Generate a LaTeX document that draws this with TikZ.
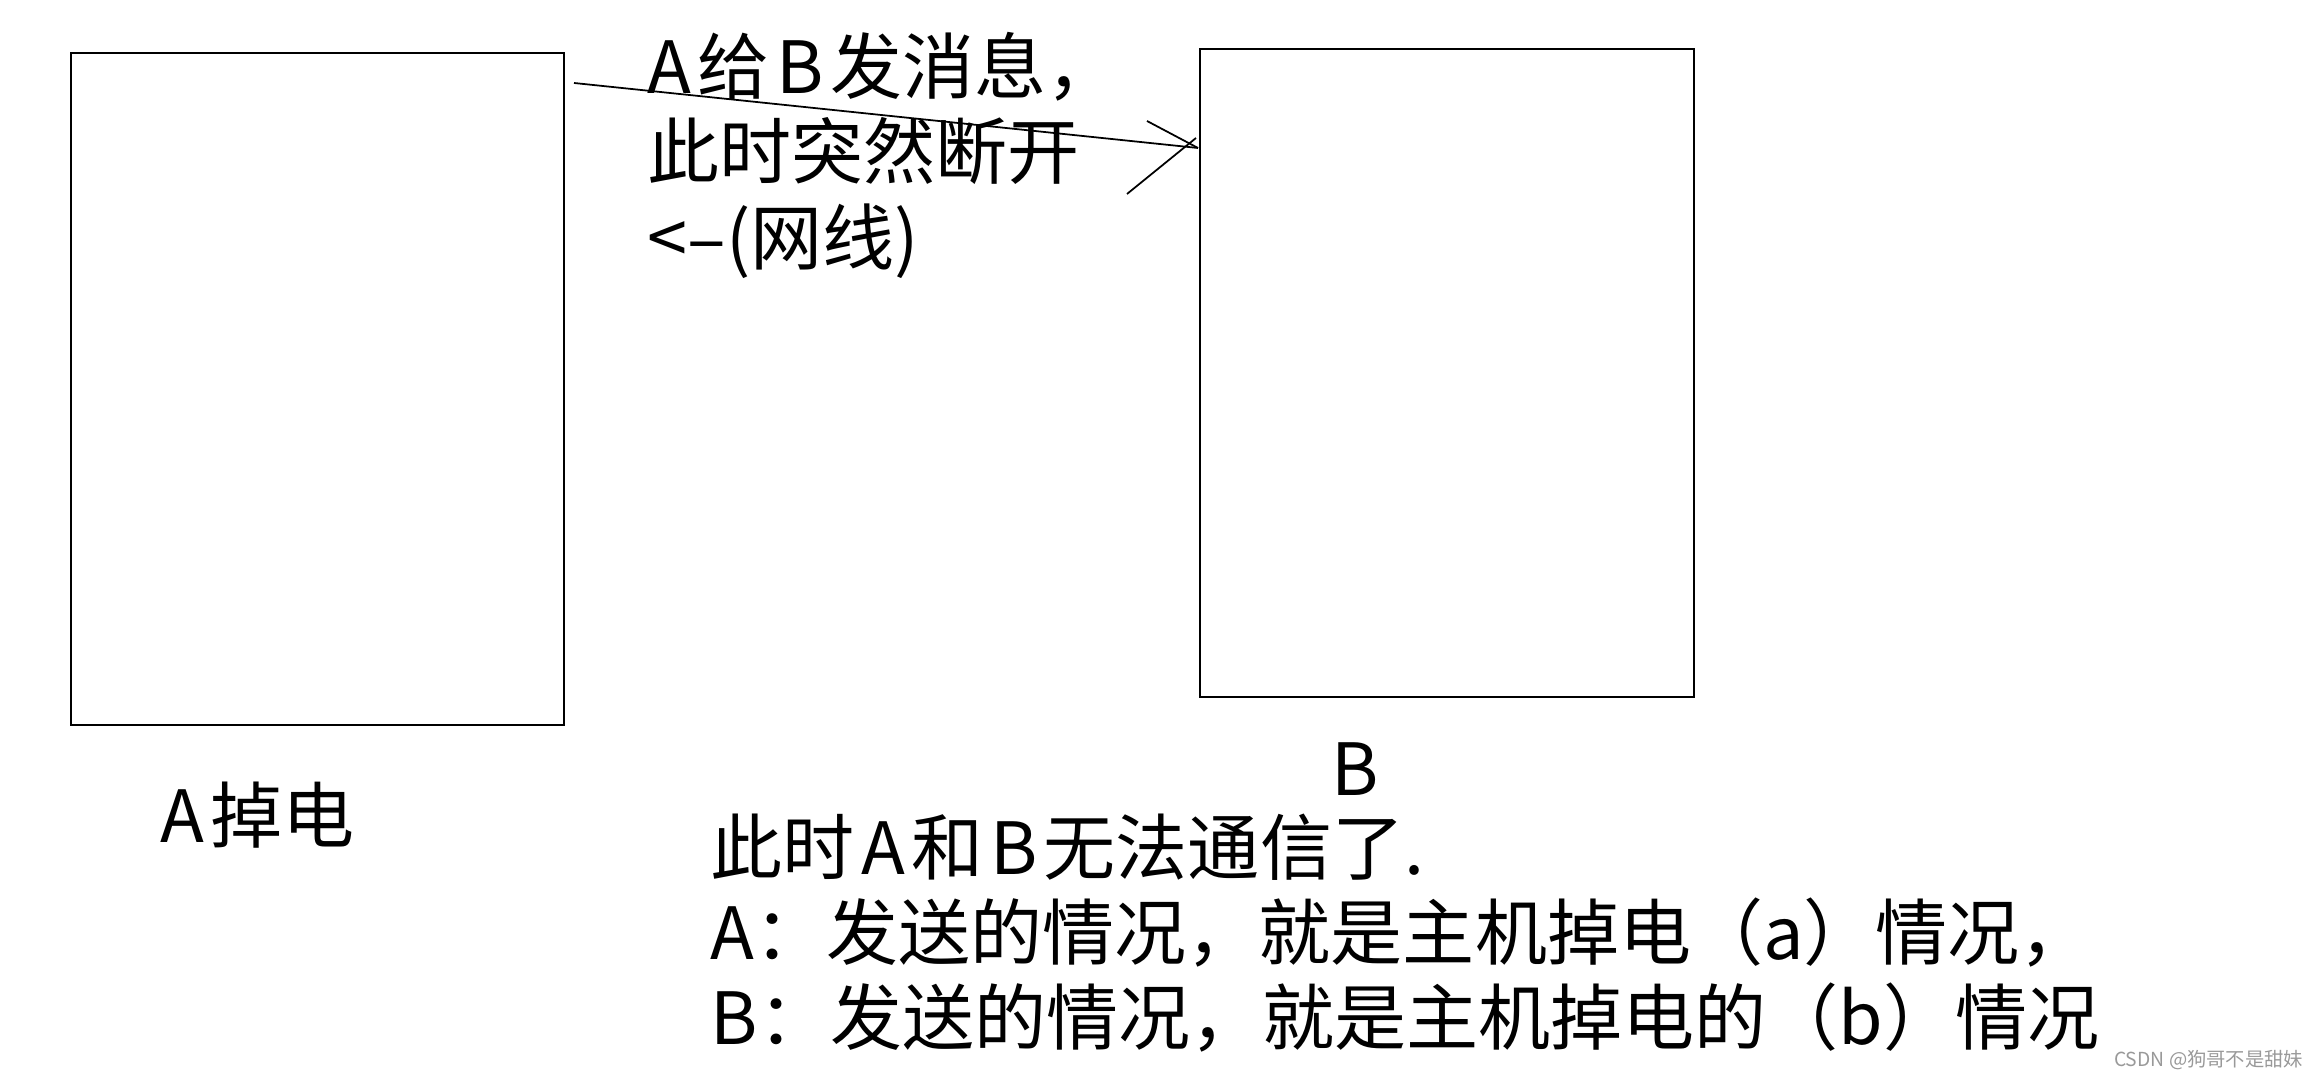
\documentclass[tikz,border=0pt]{standalone}
\usepackage{fontspec}
\setmainfont{Noto Sans CJK SC}
\newcommand{\latgap}{\kern.09em}
\tikzset{%
  hostbox/.style={draw,line width=0.5pt,inner sep=0},
  bigtxt/.style={inner sep=0,font=\fontsize{20.5pt}{24.2pt}\selectfont},
  wire/.style={draw,line width=0.5pt}
}

\begin{document}
\begin{tikzpicture}[
        hostbox/.style={draw,line width=0.5pt,inner sep=0},
        bigtxt/.style={inner sep=0,font=\fontsize{20.5pt}{24.2pt}\selectfont,align=left}
      ]
      \useasboundingbox (0,0) rectangle (23.2,-10.78);
      \node[hostbox,minimum width=4.93cm,minimum height=6.72cm](boxA) at (3.175,-3.89) {};
      \node[hostbox,minimum width=4.94cm,minimum height=6.48cm](boxB) at (14.47,-3.73) {};
      % message text and the cut wire
      \node[bigtxt,anchor=north west](msg) at (6.47,-0.32) {A\latgap 给\latgap B\latgap 发消息，\\此时突然断开\\<–(网线)};
      \coordinate (tail) at (5.74,-0.83);
      \coordinate (tip) at (11.98,-1.48);
      \coordinate (barbA) at (11.47,-1.21);
      \coordinate (barbB) at (11.27,-1.94);
      \coordinate (barbC) at (11.96,-1.38);
      \draw[wire] (tail) -- (tip);
      \draw[wire] (barbA) -- (tip);
      \draw[wire] (barbB) -- (barbC);
      % labels
      \node[bigtxt,anchor=base west](lblA) at (1.60,-8.43) {A\latgap 掉电};
      \node[bigtxt,anchor=base](lblB) at (13.55,-7.96) {B};
      \node[bigtxt,anchor=north west](note) at (7.10,-8.13) {此时\latgap A\latgap 和\latgap B\latgap 无法通信了.\\A：发送的情况，就是主机掉电（a）情况，\\B：发送的情况，就是主机掉电的（b）情况};
      \node[inner sep=0,anchor=base east,text=black!40,font=\fontsize{5.5pt}{6pt}\selectfont](wm) at (23.04,-10.67) {CSDN @狗哥不是甜妹};
    \end{tikzpicture}
\end{document}
